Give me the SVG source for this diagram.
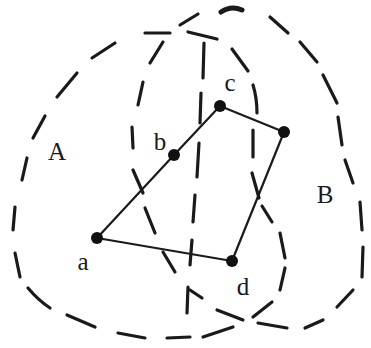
<svg xmlns="http://www.w3.org/2000/svg" width="371" height="348" viewBox="0 0 371 348">
<style>
.dash{fill:none;stroke:#1a1a1a;stroke-width:3.2;stroke-linecap:round;stroke-linejoin:round}
.bold{stroke-width:5}
.edge{fill:none;stroke:#1a1a1a;stroke-width:2.2}
.pt{fill:#111}
.lbl{font-family:"Liberation Serif","DejaVu Serif",serif;font-size:25px;fill:#1a1a1a;text-anchor:middle}
</style>
<rect width="371" height="348" fill="#fff"/>
<g id="region-A">
<path class="dash" d="M115,43 L92,58 M77,73 L57,97 M45,116 L33,138 M27,158 L22,180 M15,207 L13,230 M15,253 L20,277 M28,288 Q38,300 50,308 M67,315 L95,327 M118,333 L145,338 M167,338 L190,337 M203,337 L233,327 M253,317 L272,302 M280,290 L285,268 M285,258 L280,233 M272,222 L262,206 M259,198 L252,173 M253,157 L253,130 M257,113 Q257,98 253,85 M248,71 L232,49 M217,39 L188,32 M170,33 L145,33"/>
<text class="lbl" x="57" y="160">A</text>
</g>
<g id="region-B">
<path class="dash bold" d="M221,12 Q231,5 242,10"/>
<path class="dash" d="M270,17 L288,33 M300,42 L317,62 M323,75 L337,103 M338,117 L342,145 M345,160 L353,183 M360,202 L362,230 M363,247 L362,277 M353,290 L337,307 M323,320 L305,328 M287,328 L258,323 M243,320 L217,310 M202,298 L190,290 M175,272 L163,252 M155,233 L145,208 M143,193 L133,170 M133,148 L132,127 M138,105 L143,82 M150,63 L163,42 M180,25 L198,14"/>
<text class="lbl" x="325" y="203">B</text>
</g>
<g id="divider">
<path class="dash" d="M204,43 L203,78 M201,93 L200,123 M199,143 L197,177 M195,195 L193,222 M192,240 L190,265 M188,287 L187,313"/>
</g>
<g id="connectors">
<path class="edge" d="M97,238 L174,155 L220,106"/>
<path class="edge" d="M220,106 L284,132"/>
<path class="edge" d="M284,132 L232,261"/>
<path class="edge" d="M232,261 L97,238"/>
</g>
<g id="node-a"><circle class="pt" cx="97" cy="238" r="6"/><text class="lbl" x="83" y="270">a</text></g>
<g id="node-b"><circle class="pt" cx="174" cy="155" r="6"/><text class="lbl" x="160" y="150">b</text></g>
<g id="node-c"><circle class="pt" cx="220" cy="106" r="6"/><text class="lbl" x="230" y="91">c</text></g>
<g id="node-p"><circle class="pt" cx="284" cy="132" r="6"/></g>
<g id="node-d"><circle class="pt" cx="232" cy="261" r="6"/><text class="lbl" x="243" y="295">d</text></g>
</svg>
